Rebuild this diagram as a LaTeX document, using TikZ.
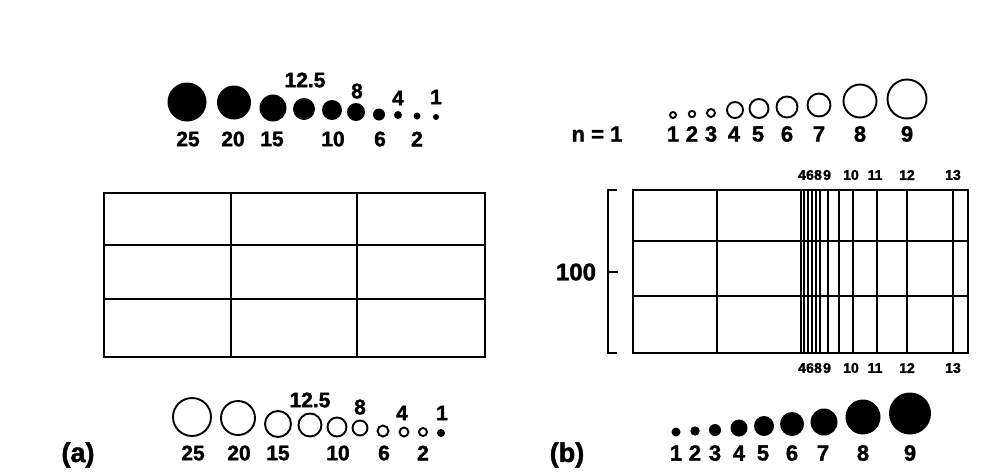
\documentclass[tikz,border=0pt]{standalone}
\usepackage{fontspec}
\setmainfont{Liberation Sans}[BoldFeatures={FakeBold=1.6}]
\begin{document}
\begin{tikzpicture}[
  x=1pt,
  y=-1pt,
  frame/.style={draw=black,line width=2.6pt},
  inner rule/.style={draw=black,line width=2pt},
  fine rule/.style={draw=black,line width=1.4pt},
  fulldot/.style={fill=black},
  opendot/.style={draw=black,line width=1.9pt},
  lab/.style={font=\fontsize{21}{21}\selectfont\bfseries,inner sep=0pt},
  rlab/.style={font=\fontsize{22}{22}\selectfont\bfseries,inner sep=0pt},
  glab/.style={font=\fontsize{14}{14}\selectfont\bfseries,inner sep=0pt},
  biglab/.style={font=\fontsize{27}{27}\selectfont\bfseries,inner sep=0pt}
]
\useasboundingbox (0,0) rectangle (1005,472);

% panel (a)
\foreach \cx/\cy/\r in {187/102/19.5,234/102.5/17,273/108/13.5,304/109/11,332/110/10,
    356/112/9,379/114.5/6,398/115/4,417/116/3.5,436/117/3}
  \path[fulldot] (\cx,\cy) circle (\r);
\foreach \t/\lx/\ly [count=\k] in {25/188/139,20/233/139,15/272/139,10/333/139,6/380/139,
    2/417/139,12.5/305/80,8/357/91,4/398/98,1/436/97}
  \node[lab] (topa\k) at (\lx,\ly) {\t};

\draw[frame] (104,193) rectangle (485,357);
\foreach \gy in {245,299}
  \draw[frame] (104,\gy) -- (485,\gy);
\foreach \gx in {231,357}
  \draw[frame] (\gx,193) -- (\gx,357);

\foreach \cx/\cy/\r in {192/417/19,238/418/17,278/424/13,310/425/11.5,337/427/9.5,
    360/428/7.5,383/431/5.5,404/432/4.5,423/432/4}
  \path[opendot] (\cx,\cy) circle (\r);
\path[fulldot] (441,433) circle (4);
\foreach \t/\lx/\ly [count=\k] in {25/193/453,20/239/453,15/278/453,10/338/453,6/384/453,
    2/423/453,12.5/310/400,8/360/407,4/402/413,1/442/413}
  \node[lab] (bota\k) at (\lx,\ly) {\t};

\node[biglab] (capa) at (78,455) {(a)};

% panel (b)
\foreach \cx/\cy/\r in {673/115/3,692/114/3.2,711/113/4,735/110/8,759/108.5/9.5,
    787/107/10.5,819/105/11.5,860/101/16.5,907/99/19.5}
  \path[opendot] (\cx,\cy) circle (\r);
\node[rlab] (nlab) at (597,134) {n = 1};
\foreach \t/\lx in {1/673,2/692,3/711,4/734,5/758,6/787,7/819,8/860,9/907}
  \node[rlab] (topb\t) at (\lx,134) {\t};

\draw[frame] (633,190) rectangle (968,353);
\foreach \gy in {241,296}
  \draw[inner rule] (633,\gy) -- (968,\gy);
\draw[inner rule] (717,190) -- (717,353);
\foreach \gx in {801,804,808,812,816,820,828,839,853,877,907,953}
  \draw[fine rule] (\gx,190) -- (\gx,353);
\foreach \t/\lx in {4/802,6/810,8/818,9/827,10/851,11/875,12/907,13/953} {
  \node[glab] (gtop\t) at (\lx,175) {\t};
  \node[glab] (gbot\t) at (\lx,368) {\t};
}

\draw[inner rule] (617,190) -- (608,190) -- (608,353) -- (617,353);
\draw[inner rule] (608,272) -- (618,272);
\node[biglab,font=\fontsize{24}{24}\selectfont\bfseries] (hundred) at (576,272) {100};

\foreach \cx/\cy/\r in {676/432/4.5,695/431/4.7,715/430/6,739/428/8.5,764/426/10,
    792/424/12,824/422/13.5,863/417/17.5,910/413.5/21}
  \path[fulldot] (\cx,\cy) circle (\r);
\foreach \t/\lx in {1/676,2/695,3/715,4/739,5/763,6/792,7/823,8/863,9/910}
  \node[rlab] (botb\t) at (\lx,453) {\t};

\node[biglab] (capb) at (567,455) {(b)};
\end{tikzpicture}
\end{document}
